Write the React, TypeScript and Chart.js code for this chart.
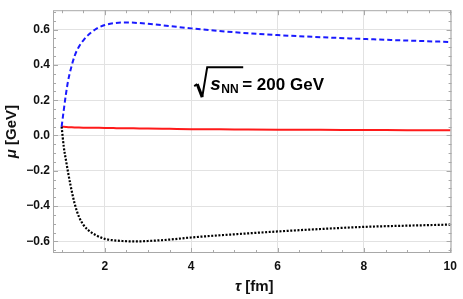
import React, { useEffect, useRef } from "react";
import { Chart, registerables } from "chart.js";

Chart.register(...registerables);

const tau = [1.0, 1.05, 1.1, 1.15, 1.2, 1.3, 1.4, 1.5, 1.6, 1.8, 2.0, 2.2, 2.4, 2.6, 2.8, 3.0, 3.5, 4, 5, 6, 7, 8, 9, 10];
const muBlue = [0.05, 0.145, 0.235, 0.31, 0.365, 0.45, 0.503, 0.538, 0.566, 0.604, 0.626, 0.636, 0.64, 0.64, 0.637, 0.633, 0.62, 0.607, 0.585, 0.569, 0.557, 0.547, 0.538, 0.53];
const muBlack = [0.05, -0.065, -0.14, -0.21, -0.275, -0.385, -0.46, -0.505, -0.533, -0.566, -0.586, -0.594, -0.598, -0.6, -0.6, -0.598, -0.59, -0.578, -0.56, -0.544, -0.53, -0.518, -0.511, -0.505];
const muRed = [0.05, 0.049, 0.048, 0.047, 0.0465, 0.0455, 0.045, 0.0445, 0.044, 0.0435, 0.043, 0.042, 0.041, 0.0405, 0.04, 0.039, 0.0375, 0.036, 0.0345, 0.033, 0.032, 0.031, 0.030, 0.029];
const xTicks = [2, 4, 6, 8, 10];
const yTicks = [-0.6, -0.4, -0.2, 0.0, 0.2, 0.4, 0.6];
const xMinorStep = 0.5;
const yMinorStep = 0.05;

const FONT = "'Liberation Sans', Arial, sans-serif";

const decorPlugin = {
  id: "decor",
  afterDraw(chart: any) {
    const ctx = chart.ctx;
    const { left, right, top, bottom } = chart.chartArea;
    const xs = chart.scales.x;
    const ys = chart.scales.y;
    ctx.save();
    // frame
    ctx.strokeStyle = "#a8a8a8";
    ctx.lineWidth = 1;
    ctx.strokeRect(left + 0.5, top + 0.5, right - left - 1, bottom - top - 1);
    // ticks x
    for (let v = Math.ceil(xs.min / xMinorStep) * xMinorStep; v <= xs.max + 1e-9; v += xMinorStep) {
      const isMajor = Math.abs(v / 2 - Math.round(v / 2)) < 1e-6;
      const len = isMajor ? 5 : 3;
      const px = Math.round(xs.getPixelForValue(v)) + 0.5;
      ctx.beginPath();
      ctx.moveTo(px, bottom);
      ctx.lineTo(px, bottom - len);
      ctx.moveTo(px, top);
      ctx.lineTo(px, top + len);
      ctx.stroke();
    }
    for (let k = Math.ceil(ys.min / yMinorStep); k * yMinorStep <= ys.max + 1e-9; k++) {
      const v = k * yMinorStep;
      const isMajor = k % 4 === 0;
      const len = isMajor ? 5 : 3;
      const py = Math.round(ys.getPixelForValue(v)) + 0.5;
      ctx.beginPath();
      ctx.moveTo(left, py);
      ctx.lineTo(left + len, py);
      ctx.moveTo(right, py);
      ctx.lineTo(right - len, py);
      ctx.stroke();
    }
    // axis titles
    ctx.fillStyle = "#111";
    ctx.textBaseline = "middle";
    const xc = (left + right) / 2 + 2;
    ctx.font = `italic bold 15px ${FONT}`;
    const t1 = "τ";
    const w1 = ctx.measureText(t1).width;
    ctx.font = `bold 15px ${FONT}`;
    const t2 = " [fm]";
    const w2 = ctx.measureText(t2).width;
    const x0 = xc - (w1 + w2) / 2;
    ctx.textAlign = "left";
    ctx.font = `italic bold 15px ${FONT}`;
    ctx.fillText(t1, x0, 287);
    ctx.font = `bold 15px ${FONT}`;
    ctx.fillText(t2, x0 + w1, 287);
    // y title
    ctx.save();
    ctx.translate(12, (top + bottom) / 2);
    ctx.rotate(-Math.PI / 2);
    ctx.font = `italic bold 15px ${FONT}`;
    const m1 = "μ";
    const mw1 = ctx.measureText(m1).width;
    ctx.font = `bold 15px ${FONT}`;
    const m2 = " [GeV]";
    const mw2 = ctx.measureText(m2).width;
    const y0 = -(mw1 + mw2) / 2;
    ctx.font = `italic bold 15px ${FONT}`;
    ctx.fillText(m1, y0, 0);
    ctx.font = `bold 15px ${FONT}`;
    ctx.fillText(m2, y0 + mw1, 0);
    ctx.restore();
    // annotation sqrt(s_NN) = 200 GeV
    const ax = xs.getPixelForValue(4.07);
    const base = ys.getPixelForValue(0.257);
    ctx.strokeStyle = "#000";
    ctx.lineWidth = 2;
    ctx.lineJoin = "miter";
    ctx.beginPath();
    ctx.moveTo(ax, base - 4);
    ctx.lineTo(ax + 3, base - 6);
    ctx.stroke();
    ctx.lineWidth = 3;
    ctx.beginPath();
    ctx.moveTo(ax + 3, base - 6);
    ctx.lineTo(ax + 8, base + 7);
    ctx.stroke();
    ctx.lineWidth = 2;
    ctx.beginPath();
    ctx.moveTo(ax + 8, base + 7);
    ctx.lineTo(ax + 13, base - 23);
    ctx.lineTo(ax + 49, base - 23);
    ctx.stroke();
    ctx.fillStyle = "#000";
    ctx.textBaseline = "alphabetic";
    ctx.textAlign = "left";
    ctx.font = `italic bold 19px ${FONT}`;
    ctx.fillText("s", ax + 16, base);
    ctx.font = `bold 12px ${FONT}`;
    ctx.fillText("NN", ax + 27, base + 3);
    ctx.font = `bold 17px ${FONT}`;
    ctx.fillText("= 200 GeV", ax + 48, base);
    ctx.restore();
  },
};

export default function App() {
  const ref = useRef<HTMLCanvasElement | null>(null);
  useEffect(() => {
    document.body.style.margin = "0";
    const canvas = ref.current!;
    const mk = (ys: number[]) => tau.map((t, i) => ({ x: t, y: ys[i] }));
    const chart = new Chart(canvas, {
      type: "line",
      data: {
        datasets: [
          {
            data: mk(muBlue),
            borderColor: "#1a1aff",
            borderWidth: 2,
            borderDash: [5, 3],
            pointRadius: 0,
            cubicInterpolationMode: "monotone",
            fill: false,
          },
          {
            data: mk(muBlack),
            borderColor: "#000",
            borderWidth: 2.2,
            borderDash: [2, 1.6],
            pointRadius: 0,
            cubicInterpolationMode: "monotone",
            fill: false,
          },
          {
            data: mk(muRed),
            borderColor: "#ff1a1a",
            borderWidth: 2,
            pointRadius: 0,
            cubicInterpolationMode: "monotone",
            fill: false,
          },
        ],
      },
      options: {
        responsive: false,
        animation: false,
        layout: { padding: { top: 2, right: 10, left: 0, bottom: 0 } },
        plugins: { legend: { display: false }, tooltip: { enabled: false } },
        scales: {
          x: {
            type: "linear",
            min: 0.8,
            max: 10.03,
            afterBuildTicks: (s: any) => {
              s.ticks = xTicks.map((v) => ({ value: v }));
            },
            afterFit: (s: any) => {
              s.height = 46;
            },
            ticks: {
              padding: 6,
              color: "#111",
              font: { family: FONT, weight: "bold", size: 12 },
              callback: (v: any) => String(v),
            },
            grid: { color: "#e2e2e2", drawTicks: false, lineWidth: 1 },
            border: { display: false },
          },
          y: {
            type: "linear",
            min: -0.666,
            max: 0.71,
            afterBuildTicks: (s: any) => {
              s.ticks = yTicks.map((v) => ({ value: v }));
            },
            afterFit: (s: any) => {
              s.width = 53;
            },
            ticks: {
              padding: 3,
              color: "#111",
              font: { family: FONT, weight: "bold", size: 12 },
              callback: (v: any) => Number(v).toFixed(1).replace("-", "\u2212"),
            },
            grid: { color: "#e2e2e2", drawTicks: false, lineWidth: 1 },
            border: { display: false },
          },
        },
      },
      plugins: [decorPlugin],
    } as any);
    return () => chart.destroy();
  }, []);
  return <canvas ref={ref} width={463} height={299} style={{ display: "block" }} />;
}
